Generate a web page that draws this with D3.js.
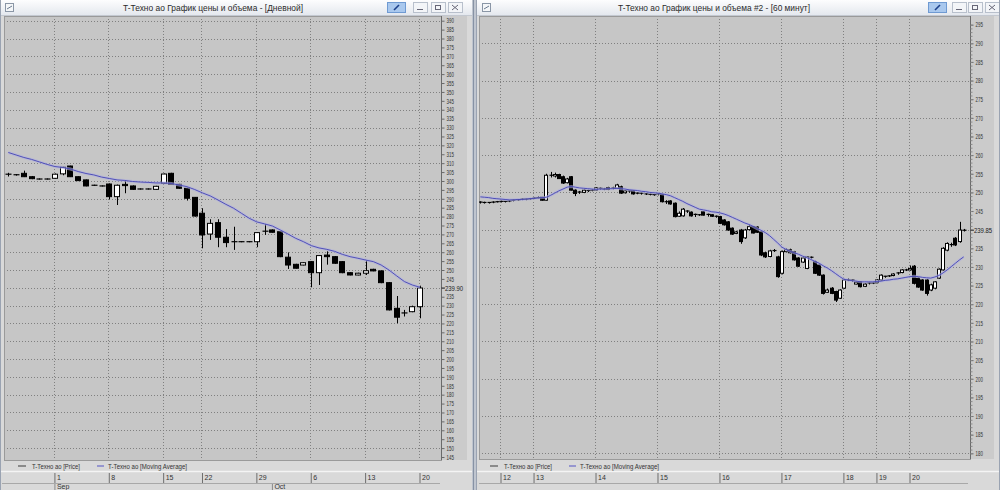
<!DOCTYPE html>
<html><head><meta charset="utf-8">
<script src="https://cdn.jsdelivr.net/npm/d3@7"></script>
<style>body{margin:0;background:#d7d7d7;} svg{display:block;font-family:"Liberation Sans",Arial,sans-serif;}</style>
</head><body><svg id="c" width="1000" height="490"></svg>
<script>
// ---------- DATA ----------
const dailyTitle = "T-Техно ао График цены и объема - [Дневной]";
const hourlyTitle = "T-Техно ао График цены и объема #2 - [60 минут]";
const legendPrice = "T-Техно ао [Price]";
const legendMA = "T-Техно ао [Moving Average]";

const dailyTickIdx = [6, 13, 20, 25, 32, 39, 46, 53];
const dailyTickLabels = ["1", "8", "15", "22", "29", "6", "13", "20"];
const dailyMonthIdx = [6, 34];
const dailyMonthLabels = ["Sep", "Oct"];
const dailyYTicks = [390,385,380,375,370,365,360,355,350,345,340,335,330,325,320,315,310,305,300,295,290,285,280,275,270,265,260,255,250,245,240,235,230,225,220,215,210,205,200,195,190,185,180,175,170,165,160,155,150,145];
const dailyLast = "239.90";

const dailyOpen  = [303.8,303.4,304.3,302.4,301.1,301.1,301.5,304.0,308.4,302.4,300.6,297.6,297.2,298.3,291.2,298.1,297.2,295.5,295.5,295.3,298.7,304.3,298.1,295.9,290.8,281.9,270.2,276.6,268.4,265.9,265.9,265.9,265.9,271.8,272.5,271.5,257.2,253.2,252.8,254.7,248.5,258.4,257.5,254.7,248.5,247.2,248.2,250.4,249.5,242.9,228.5,225.9,226.6,229.4];
const dailyHigh  = [304.6,303.9,305.8,302.8,301.4,301.4,304.2,308.0,308.6,302.6,300.8,297.9,297.5,298.6,298.0,300.2,297.5,295.8,295.8,297.3,304.2,304.6,298.4,296.2,291.0,284.7,278.5,278.5,273.0,274.3,266.2,266.2,271.3,275.8,272.8,271.8,259.9,253.5,254.4,255.0,258.4,260.5,257.8,255.0,248.8,248.5,255.3,250.7,249.8,243.2,235.4,227.6,230.0,241.2];
const dailyLow   = [302.5,303.0,302.2,301.0,300.8,300.8,301.2,303.2,302.2,300.0,297.0,297.3,296.9,289.7,286.5,293.1,295.0,295.2,295.2,295.0,298.3,297.9,295.6,289.0,280.0,262.2,266.9,262.8,262.8,261.3,265.6,265.6,262.8,269.7,271.0,257.2,250.6,250.8,252.6,240.3,241.6,253.0,253.5,248.2,247.0,247.0,247.2,249.3,242.6,227.3,220.1,223.9,226.3,222.9];
const dailyClose = [303.2,303.5,302.4,301.3,301.1,301.1,303.8,307.7,302.4,300.2,297.2,297.6,297.2,291.2,297.6,297.4,295.3,295.5,295.5,297.0,303.9,298.1,295.9,290.3,280.3,269.7,276.2,268.4,265.4,265.9,265.9,265.9,271.0,271.3,271.2,257.5,252.8,251.0,254.1,248.5,258.1,257.5,253.8,248.5,247.2,248.2,249.6,249.5,242.9,227.6,223.5,225.5,229.4,239.9];
const dailyMA    = [316.0,314.6,313.2,312.1,310.7,309.3,308.1,307.6,306.7,305.3,304.2,303.4,302.2,301.4,300.6,300.3,299.7,299.4,299.2,298.9,298.9,298.6,297.7,296.8,295.2,293.3,291.6,289.3,286.9,284.7,281.9,279.1,277.0,275.9,274.7,272.5,270.2,267.8,265.9,263.7,262.4,261.6,260.5,258.8,257.5,256.6,255.6,254.7,252.8,250.0,246.7,243.5,241.6,240.3];

const hourlyTickIdx = [5, 13, 28, 43, 58, 73, 88, 96, 104];
const hourlyTickLabels = ["12", "13", "14", "15", "16", "17", "18", "19", "20"];
const hourlyYTicks = [295,290,285,280,275,270,265,260,255,250,245,240,235,230,225,220,215,210,205,200,195,190,185,180];
const hourlyLast = "239.85";
// [open, high, low, close]
const hourlyCandles = [
[247.4,247.6,247.0,247.2],[247.2,247.5,247.0,247.3],[247.3,247.4,247.0,247.2],[247.2,247.6,247.1,247.4],[247.4,247.7,247.3,247.5],
[247.5,247.8,247.3,247.6],[247.6,247.7,247.3,247.5],[247.5,247.9,247.4,247.7],[247.7,248.1,247.6,247.9],[247.9,248.2,247.7,248.0],
[248.0,248.4,247.9,248.2],[248.2,248.3,247.9,248.1],[248.1,248.5,248.0,248.3],[248.3,248.7,248.2,248.5],[248.5,248.9,248.4,248.6],
[248.7,248.8,247.8,247.9],[247.9,255.0,247.8,254.6],[254.6,255.5,254.0,254.4],[254.4,255.3,254.0,254.8],[254.8,255.0,253.6,253.7],
[254.2,254.5,252.3,252.5],[252.6,253.9,252.4,253.6],[254.2,254.4,250.5,250.6],[250.6,250.8,249.0,249.7],[249.8,250.4,249.6,250.1],
[250.0,250.8,249.8,250.6],[250.5,250.7,250.1,250.4],[250.4,250.9,250.3,250.6],[250.6,251.4,250.4,251.2],[251.1,251.3,250.7,250.9],
[250.9,251.2,250.6,250.9],[251.3,251.5,250.6,250.8],[250.9,251.5,250.8,251.2],[251.1,252.3,251.0,252.0],[251.5,251.8,249.6,249.8],
[249.9,250.6,249.7,250.4],[250.4,250.5,249.9,250.1],[250.4,250.6,249.4,249.6],[249.6,250.0,249.5,249.8],[249.8,249.9,249.4,249.6],
[249.6,249.8,249.3,249.5],[249.5,249.7,249.2,249.4],[249.4,249.6,249.1,249.3],[249.3,249.8,249.2,249.6],[249.4,249.6,247.3,247.5],
[247.5,247.9,246.9,247.2],[247.7,247.9,246.7,246.9],[247.1,247.3,243.3,243.5],[243.6,244.9,243.4,244.4],[243.7,245.8,243.5,245.5],
[245.0,245.2,244.5,244.7],[244.7,244.9,243.5,243.7],[243.8,244.3,243.4,244.1],[244.0,244.2,243.7,243.9],[244.8,245.0,243.8,243.9],
[243.9,244.3,243.5,244.1],[244.0,244.1,243.4,243.6],[243.6,243.8,243.2,243.4],[243.5,243.7,241.5,241.7],[242.6,242.8,241.1,241.3],
[242.1,242.3,239.7,239.9],[240.4,240.6,238.6,238.8],[239.0,239.7,238.8,239.4],[239.9,240.2,236.2,236.8],[237.8,240.2,237.5,239.9],
[240.0,241.3,239.8,240.8],[240.8,241.0,239.0,239.1],[240.7,240.9,239.1,239.3],[239.4,239.6,232.9,233.2],[233.8,234.1,232.4,232.7],
[232.8,234.6,232.6,234.3],[234.3,234.8,234.0,234.4],[232.7,233.0,227.1,227.4],[228.3,234.4,228.0,234.1],[234.1,235.0,233.9,234.6],
[234.6,234.9,233.6,233.8],[234.1,234.3,231.7,231.9],[232.4,232.6,230.0,230.2],[231.3,232.7,231.1,232.4],[229.6,232.9,229.4,232.7],
[232.6,232.8,232.2,232.4],[231.4,231.7,228.1,228.3],[230.5,230.7,227.6,227.8],[227.8,228.0,222.6,222.9],[223.2,224.2,223.0,223.8],
[224.3,224.6,222.7,222.9],[223.4,223.6,220.6,221.1],[221.6,224.0,221.4,223.8],[224.3,226.8,224.1,226.5],[226.4,226.9,226.2,226.5],
[226.5,226.6,226.0,226.2],[225.4,226.1,225.3,225.9],[226.0,226.2,224.5,224.7],[224.8,225.6,224.6,225.4],[225.4,225.9,225.3,225.7],
[225.7,225.9,225.4,225.7],[225.8,226.7,225.6,226.5],[226.5,228.0,226.3,227.8],[227.5,227.6,227.1,227.3],[227.4,227.8,227.3,227.6],
[227.7,228.3,227.5,228.1],[228.1,228.6,227.9,228.4],[228.5,229.4,228.3,229.2],[229.2,229.5,228.9,229.1],[229.2,230.4,229.0,229.6],
[230.2,230.5,225.3,225.6],[227.0,227.2,224.4,224.6],[226.5,226.7,223.6,223.8],[226.5,226.8,222.3,222.9],[223.8,225.5,223.5,225.2],
[224.3,226.2,224.0,226.0],[227.0,229.6,226.8,229.4],[229.2,235.3,229.0,235.0],[234.5,236.6,234.2,236.3],[236.0,236.5,235.4,235.9],
[237.7,238.0,235.6,235.9],[236.8,242.1,236.5,239.9],[239.8,240.2,239.5,239.85]
];
const hourlyMA = [248.8,248.7,248.6,248.4,248.3,248.2,248.1,248.0,248.0,248.1,
248.1,248.2,248.3,248.4,248.5,248.6,248.7,249.2,249.8,250.4,
250.9,251.4,251.6,251.4,251.2,251.1,251.0,250.9,250.8,250.9,
250.9,251.0,251.0,251.1,251.0,250.9,250.7,250.6,250.5,250.3,
250.2,250.0,249.9,249.8,249.6,249.4,249.1,248.6,248.1,247.6,
247.0,246.5,246.0,245.5,245.3,245.1,244.8,244.7,244.5,244.2,
243.8,243.3,242.8,242.3,241.8,241.4,240.9,240.3,239.8,239.2,
238.4,237.4,236.4,235.3,234.7,234.2,233.8,233.4,232.9,232.5,
232.0,231.5,231.0,230.3,229.7,229.0,228.2,227.4,226.7,226.5,
226.3,226.2,226.0,226.0,226.0,226.0,226.1,226.2,226.4,226.5,
226.7,226.8,227.0,227.2,227.4,227.5,227.4,227.2,227.1,227.0,
227.3,227.7,228.4,229.2,230.1,231.0,231.9,232.7];

// ---------- DRAW ----------
const svg = d3.select("#c");
const defs = svg.append("defs");
const grad = defs.append("linearGradient").attr("id","tb").attr("x1",0).attr("y1",0).attr("x2",0).attr("y2",1);
grad.append("stop").attr("offset","0%").attr("stop-color","#fdfdfe");
grad.append("stop").attr("offset","100%").attr("stop-color","#e4e8ee");

svg.append("rect").attr("width",1000).attr("height",490).attr("fill","#d7d7d7");

function textW(s, per){ let w=0; for(const ch of s){ w += (ch==="."?per*0.5:per);} return w; }

function drawWindow(cfg){
  const w = svg.append("g");
  w.append("rect").attr("x",cfg.wx0).attr("y",0).attr("width",cfg.wx1-cfg.wx0).attr("height",490)
    .attr("fill","#d9d9d9");
  w.append("rect").attr("x",cfg.wx0).attr("y",0).attr("width",cfg.wx1-cfg.wx0).attr("height",15)
    .attr("fill","url(#tb)");
  w.append("line").attr("x1",cfg.wx0).attr("x2",cfg.wx1).attr("y1",15.5).attr("y2",15.5).attr("stroke","#c3c8d0");
  w.append("rect").attr("x",cfg.wx0+5.5).attr("y",3.5).attr("width",8).attr("height",8)
    .attr("fill","#f4f6f8").attr("stroke","#8a96a6");
  w.append("line").attr("x1",cfg.wx0+7).attr("x2",cfg.wx0+12).attr("y1",9).attr("y2",6).attr("stroke","#6a7a90");
  w.append("text").attr("x",cfg.titleCx).attr("y",11).attr("text-anchor","middle")
    .attr("font-size",9).attr("fill","#2b2b2b").attr("textLength",cfg.titleLen).attr("lengthAdjust","spacingAndGlyphs")
    .text(cfg.title);
  w.append("rect").attr("x",cfg.btn[0]+0.5).attr("y",2.5).attr("width",18).attr("height",10)
    .attr("fill","#a9c8ee").attr("stroke","#6f9ad2");
  w.append("line").attr("x1",cfg.btn[0]+7).attr("x2",cfg.btn[0]+12).attr("y1",10).attr("y2",5)
    .attr("stroke","#1c3f8a").attr("stroke-width",1.6);
  [1,2,3].forEach(k=>{
    w.append("rect").attr("x",cfg.btn[k]+0.5).attr("y",2.5).attr("width",14).attr("height",10)
      .attr("fill","#f3f5f8").attr("stroke","#b8c0cc");
  });
  w.append("line").attr("x1",cfg.btn[1]+4).attr("x2",cfg.btn[1]+10).attr("y1",9.5).attr("y2",9.5).attr("stroke","#667");
  w.append("rect").attr("x",cfg.btn[2]+4.5).attr("y",5.5).attr("width",5).attr("height",4).attr("fill","none").attr("stroke","#667");
  w.append("path").attr("d",`M${cfg.btn[3]+4},5 L${cfg.btn[3]+10},10 M${cfg.btn[3]+10},5 L${cfg.btn[3]+4},10`).attr("stroke","#667");

  const P = cfg.plot;
  w.append("rect").attr("x",P.x0).attr("y",P.y0).attr("width",P.x1-P.x0).attr("height",P.y1-P.y0)
    .attr("fill","#c6c6c6");
  w.append("rect").attr("x",P.x1).attr("y",P.y0).attr("width",cfg.axisW).attr("height",P.y1-P.y0)
    .attr("fill","#cbcbcb");

  const xs = d3.scaleLinear().domain(cfg.xDomain).range(cfg.xRange);
  const ys = d3.scaleLinear().domain(cfg.yDomain).range(cfg.yRange);

  const clipId = "clip"+cfg.id;
  defs.append("clipPath").attr("id",clipId).append("rect")
    .attr("x",P.x0).attr("y",P.y0).attr("width",P.x1-P.x0).attr("height",P.y1-P.y0);

  const grid = w.append("g").attr("clip-path",`url(#${clipId})`);
  grid.selectAll("line.h").data(cfg.yTicks.filter(v=>v%10===0)).join("line")
    .attr("x1",P.x0).attr("x2",P.x1).attr("y1",d=>Math.round(ys(d))+0.5).attr("y2",d=>Math.round(ys(d))+0.5)
    .attr("stroke","#808080").attr("stroke-dasharray","1,2");
  grid.selectAll("line.v").data(cfg.tickIdx).join("line")
    .attr("x1",d=>Math.round(xs(d))-0.5).attr("x2",d=>Math.round(xs(d))-0.5).attr("y1",P.y0).attr("y2",P.y1)
    .attr("stroke","#808080").attr("stroke-dasharray","1,2");

  w.append("rect").attr("x",P.x0+0.5).attr("y",P.y0+0.5).attr("width",P.x1-P.x0).attr("height",P.y1-P.y0)
    .attr("fill","none").attr("stroke","#9a9a9a");

  const cg = w.append("g").attr("clip-path",`url(#${clipId})`);
  const bw = cfg.bodyW;
  cfg.candles.forEach((c,i)=>{
    const [o,h,l,cl] = c;
    const x = Math.round(xs(i));
    cg.append("line").attr("x1",x+0.5).attr("x2",x+0.5).attr("y1",ys(h)).attr("y2",ys(l))
      .attr("stroke","#000").attr("stroke-width",1);
    const top = ys(Math.max(o,cl)), bot = ys(Math.min(o,cl));
    const hgt = Math.max(bot-top, 1);
    if (bot-top < 1.2) {
      cg.append("line").attr("x1",x-bw/2+0.5).attr("x2",x+bw/2+0.5).attr("y1",top).attr("y2",top)
        .attr("stroke","#000").attr("stroke-width",1.2);
    } else {
      cg.append("rect").attr("x",x-Math.floor(bw/2)+0.5).attr("y",top).attr("width",bw-1).attr("height",hgt)
        .attr("fill", cl>=o ? "#ffffff" : "#000000").attr("stroke","#000").attr("stroke-width",1);
    }
  });

  const line = d3.line().x((d,i)=>xs(i)).y(d=>ys(d));
  cg.append("path").attr("d",line(cfg.ma)).attr("fill","none").attr("stroke","#b0b0de").attr("stroke-width",3).attr("stroke-opacity",0.6);
  cg.append("path").attr("d",line(cfg.ma)).attr("fill","none").attr("stroke","#4444b4").attr("stroke-width",0.9);

  const yAxis = d3.axisRight(ys).tickValues(cfg.yTicks).tickSize(3).tickPadding(2).tickFormat(d=>String(d));
  const ya = w.append("g").attr("transform",`translate(${P.x1+0.5},0)`).call(yAxis);
  ya.select(".domain").attr("stroke","#6a6a6a").attr("d",`M0,${P.y0}V${P.y1}`);
  ya.selectAll(".tick line").attr("stroke","#6a6a6a");
  ya.selectAll(".tick text").attr("font-size",7).attr("fill","#333").attr("font-family","Liberation Sans, Arial")
    .attr("textLength",d=>textW(String(d),2.45)).attr("lengthAdjust","spacingAndGlyphs")
    .style("display",d=>d===240?"none":null);
  if (cfg.minorTicks) {
    const ma = d3.axisRight(ys).tickValues(cfg.minorTicks).tickSize(2).tickFormat("");
    const mg = w.append("g").attr("transform",`translate(${P.x1+0.5},0)`).call(ma);
    mg.select(".domain").remove();
    mg.selectAll(".tick line").attr("stroke","#8a8a8a");
  }
  const lastC = cfg.candles[cfg.candles.length-1][3];
  const ly = ys(lastC);
  w.append("line").attr("x1",P.x1).attr("x2",P.x1+4).attr("y1",ly).attr("y2",ly).attr("stroke","#444");
  w.append("text").attr("x",P.x1+4).attr("y",ly+2.5).attr("font-size",7).attr("fill","#222")
    .attr("textLength",textW(cfg.last,3.3)).attr("lengthAdjust","spacingAndGlyphs").text(cfg.last);

  const lgY = cfg.legendY;
  w.append("line").attr("x1",cfg.legendX).attr("x2",cfg.legendX+8).attr("y1",lgY).attr("y2",lgY).attr("stroke","#555").attr("stroke-width",1.2);
  w.append("text").attr("x",cfg.legendX+14).attr("y",lgY+2.5).attr("font-size",7).attr("fill","#333")
    .attr("textLength",48).attr("lengthAdjust","spacingAndGlyphs").text(legendPrice);
  w.append("line").attr("x1",cfg.legendX+79).attr("x2",cfg.legendX+86).attr("y1",lgY).attr("y2",lgY).attr("stroke","#6a6ac8").attr("stroke-width",1.2);
  w.append("text").attr("x",cfg.legendX+90).attr("y",lgY+2.5).attr("font-size",7).attr("fill","#333")
    .attr("textLength",79).attr("lengthAdjust","spacingAndGlyphs").text(legendMA);

  w.append("line").attr("x1",cfg.wx0).attr("x2",cfg.wx1).attr("y1",471.5).attr("y2",471.5).attr("stroke","#f4f4f4").attr("stroke-width",1.5);
  w.append("line").attr("x1",cfg.wx0+2).attr("x2",cfg.axisEnd).attr("y1",483.5).attr("y2",483.5).attr("stroke","#a8a8a8");
  const xAxis = d3.axisBottom(xs).tickValues(cfg.tickIdx).tickSize(10).tickPadding(0)
    .tickFormat((d,i)=>cfg.tickLabels[i]);
  const xa = w.append("g").attr("transform","translate(-0.5,473)").call(xAxis);
  xa.select(".domain").remove();
  xa.selectAll(".tick line").attr("stroke","#6e6e6e");
  xa.selectAll(".tick text").attr("font-size",7).attr("fill","#333").attr("text-anchor","start")
    .attr("x",2).attr("y",2).attr("dy","0.71em");
  if (cfg.monthIdx) {
    const mAxis = d3.axisBottom(xs).tickValues(cfg.monthIdx).tickSize(7).tickPadding(0)
      .tickFormat((d,i)=>cfg.monthLabels[i]);
    const mx = w.append("g").attr("transform","translate(-0.5,484)").call(mAxis);
    mx.select(".domain").remove();
    mx.selectAll(".tick line").attr("stroke","#8a8a8a");
    mx.selectAll(".tick text").attr("font-size",7).attr("fill","#333").attr("text-anchor","start")
      .attr("x",2).attr("y",0).attr("dy","0.71em");
  }
}

drawWindow({
  id:"L", wx0:0, wx1:472, title:dailyTitle, titleCx:213, titleLen:180,
  btn:[387,413,431,448],
  plot:{x0:4,x1:441,y0:16,y1:460}, axisW:26,
  xDomain:[0,53], xRange:[8.3,420], yDomain:[145,390], yRange:[457,20.7],
  yTicks:dailyYTicks, tickIdx:dailyTickIdx, tickLabels:dailyTickLabels,
  monthIdx:dailyMonthIdx, monthLabels:dailyMonthLabels,
  candles: dailyOpen.map((o,i)=>[o,dailyHigh[i],dailyLow[i],dailyClose[i]]),
  ma:dailyMA, bodyW:6, last:dailyLast, legendX:18, legendY:466, axisEnd:440
});
drawWindow({
  id:"R", wx0:477, wx1:1000, title:hourlyTitle, titleCx:714, titleLen:192,
  btn:[928,952,968,985],
  plot:{x0:479,x1:970,y0:16,y1:459}, axisW:24,
  xDomain:[5,104], xRange:[501,910], yDomain:[180,290], yRange:[453.3,43.3],
  yTicks:hourlyYTicks, minorTicks:d3.range(180,296,1), tickIdx:hourlyTickIdx, tickLabels:hourlyTickLabels,
  candles:hourlyCandles, ma:hourlyMA, bodyW:4, last:hourlyLast, legendX:490, legendY:466, axisEnd:968
});

svg.append("rect").attr("x",472).attr("y",0).attr("width",5).attr("height",490).attr("fill","#bfc5cf");
svg.append("line").attr("x1",473.5).attr("x2",473.5).attr("y1",0).attr("y2",490).attr("stroke","#8792a4");
svg.append("line").attr("x1",476.5).attr("x2",476.5).attr("y1",0).attr("y2",490).attr("stroke","#9aa3b2");
svg.append("line").attr("x1",0.5).attr("x2",0.5).attr("y1",0).attr("y2",490).attr("stroke","#9aa3b2");
svg.append("line").attr("x1",999.5).attr("x2",999.5).attr("y1",0).attr("y2",490).attr("stroke","#9aa3b2");
</script>
</body></html>
